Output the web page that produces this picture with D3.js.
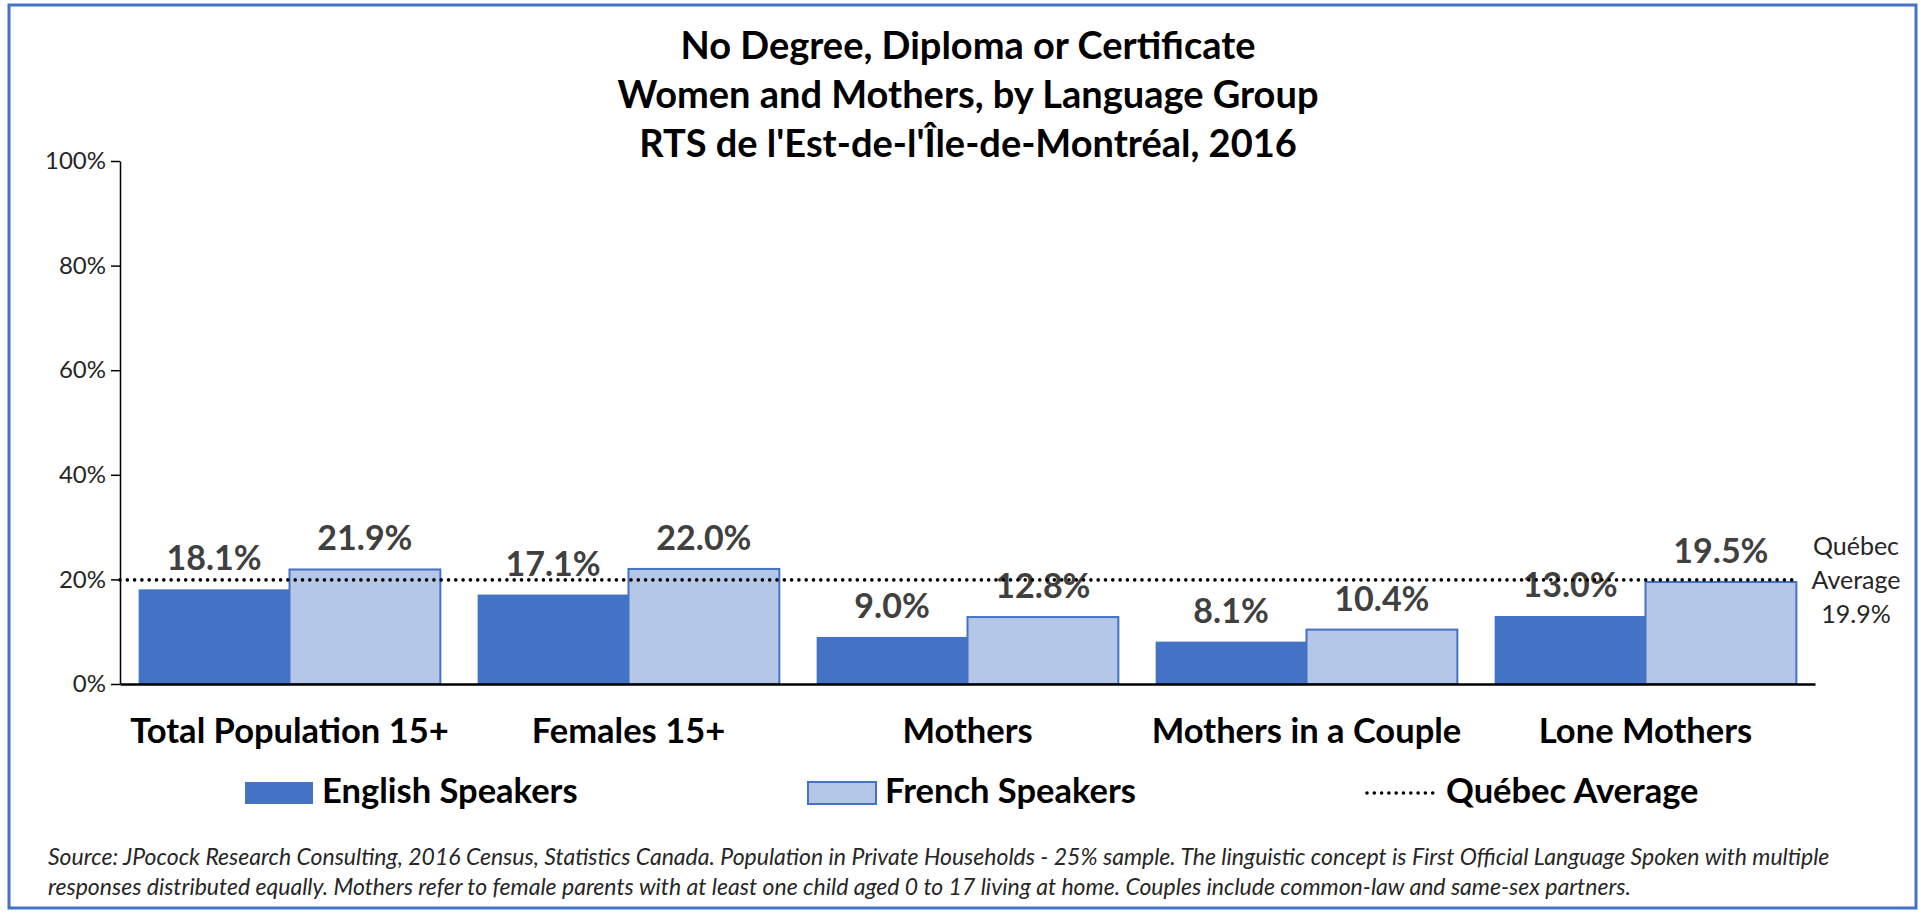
<!DOCTYPE html>
<html>
<head>
<meta charset="utf-8">
<script src="https://cdn.jsdelivr.net/npm/d3@7"></script>
<style>
  body { margin: 0; background: #fff; }
  svg { display: block; font-family: Lato, "Open Sans", sans-serif; }
</style>
</head>
<body>
<svg width="1925" height="914"></svg>
<script>
// values
var categories = ["Total Population 15+", "Females 15+", "Mothers", "Mothers in a Couple", "Lone Mothers"];
var seriesNames = ["English Speakers", "French Speakers"];
var english = [18.1, 17.1, 9.0, 8.1, 13.0];
var french = [21.9, 22.0, 12.8, 10.4, 19.5];
var quebecAvg = 19.9;
var yTicks = [0, 20, 40, 60, 80, 100];
var titleLines = ["No Degree, Diploma or Certificate", "Women and Mothers, by Language Group", "RTS de l'Est-de-l'\u00CEle-de-Montr\u00E9al, 2016"];
var noteLines = [
  "Source: JPocock Research Consulting, 2016 Census, Statistics Canada. Population in Private Households - 25% sample. The linguistic concept is First Official Language Spoken with multiple",
  "responses distributed equally. Mothers refer to female parents with at least one child aged 0 to 17 living at home. Couples include common-law and same-sex partners."
];

var blue = "#4472C4", lightBlue = "#B4C7E7";

var svg = d3.select("svg");

// frame
svg.append("rect")
    .attr("x", 9).attr("y", 5)
    .attr("width", 1907).attr("height", 903)
    .attr("fill", "none")
    .attr("stroke", blue)
    .attr("stroke-width", 3);

// title
svg.append("g").selectAll("text")
    .data(titleLines)
    .enter().append("text")
    .attr("x", 968)
    .attr("y", function(d, i) { return 59 + i * 49; })
    .attr("text-anchor", "middle")
    .style("font-size", "38px")
    .style("font-weight", "bold")
    .attr("fill", "#000")
    .text(function(d) { return d; });

var x0 = d3.scaleBand()
    .domain(categories)
    .range([120, 1815])
    .paddingInner(0.11)
    .paddingOuter(0.055);

var x1 = d3.scaleBand()
    .domain(seriesNames)
    .range([0, x0.bandwidth()]);

var y = d3.scaleLinear()
    .domain([0, 100])
    .range([684, 161]);

var rows = categories.map(function(c, i) {
  return { cat: c, values: [{ key: seriesNames[0], v: english[i] }, { key: seriesNames[1], v: french[i] }] };
});

// y axis
var yAxis = svg.append("g")
    .attr("transform", "translate(120,0)")
    .call(d3.axisLeft(y).tickValues(yTicks).tickFormat(function(d) { return d + "%"; }).tickSize(9).tickSizeOuter(0).tickPadding(5));
yAxis.select(".domain").attr("stroke", "#000").attr("stroke-width", 1.5);
yAxis.selectAll(".tick line").attr("stroke", "#000").attr("stroke-width", 1.5);
yAxis.selectAll(".tick text")
    .style("font-size", "24px")
    .style("font-family", "Lato, sans-serif")
    .attr("fill", "#262626");

// bars
var group = svg.append("g").selectAll("g")
    .data(rows)
    .enter().append("g")
    .attr("transform", function(d) { return "translate(" + x0(d.cat) + ",0)"; });

group.selectAll("rect")
    .data(function(d) { return d.values; })
    .enter().append("rect")
    .attr("x", function(d) { return x1(d.key); })
    .attr("y", function(d) { return y(d.v); })
    .attr("width", x1.bandwidth())
    .attr("height", function(d) { return y(0) - y(d.v); })
    .attr("fill", function(d, i) { return i == 0 ? blue : lightBlue; })
    .attr("stroke", function(d, i) { return i == 0 ? "none" : blue; })
    .attr("stroke-width", 2);

// x axis
var xAxis = svg.append("g")
    .attr("transform", "translate(0,684)")
    .call(d3.axisBottom(x0).tickSize(0).tickSizeOuter(0).tickPadding(0));
xAxis.select(".domain").attr("stroke", "#000").attr("stroke-width", 2.5);
xAxis.selectAll(".tick text")
    .attr("y", 59)
    .attr("dy", 0)
    .style("font-size", "34.5px")
    .style("font-weight", "bold")
    .style("font-family", "Lato, sans-serif")
    .attr("fill", "#000");

// quebec average dotted line
var lastCat = categories[categories.length - 1];
svg.append("line")
    .attr("x1", x0.range()[0])
    .attr("x2", x0(lastCat) + x0.bandwidth())
    .attr("y1", y(quebecAvg))
    .attr("y2", y(quebecAvg))
    .attr("stroke", "#000")
    .attr("stroke-width", 3.6)
    .attr("stroke-linecap", "round")
    .attr("stroke-dasharray", "0,7.3");

// data labels with a light backing box
var labels = group.selectAll(".lbl")
    .data(function(d) { return d.values; })
    .enter().append("g")
    .attr("class", "lbl");

labels.append("text")
    .attr("x", function(d) { return x1(d.key) + x1.bandwidth() / 2; })
    .attr("y", function(d) { return y(d.v) - 19; })
    .attr("text-anchor", "middle")
    .style("font-size", "34px")
    .style("font-weight", "bold")
    .attr("fill", "#404040")
    .text(function(d) { return d.v.toFixed(1) + "%"; });

labels.each(function() {
  var g = d3.select(this), b = g.select("text").node().getBBox();
  g.insert("rect", "text")
      .attr("x", b.x).attr("y", b.y + 4)
      .attr("width", b.width).attr("height", b.height - 8)
      .attr("fill", "#fff")
      .attr("fill-opacity", 0.82);
});

// right-hand annotation
svg.append("g").selectAll("text")
    .data(["Qu\u00E9bec", "Average", quebecAvg.toFixed(1) + "%"])
    .enter().append("text")
    .attr("x", 1856)
    .attr("y", function(d, i) { return 555 + i * 34; })
    .attr("text-anchor", "middle")
    .style("font-size", "25px")
    .attr("fill", "#262626")
    .text(function(d) { return d; });

// legend
var legend = svg.append("g").style("font-size", "34.5px").style("font-weight", "bold");
var legX = [245, 808, 1367];

legend.selectAll("rect")
    .data(seriesNames)
    .enter().append("rect")
    .attr("x", function(d, i) { return legX[i]; })
    .attr("y", 782)
    .attr("width", 68)
    .attr("height", 22)
    .attr("fill", function(d, i) { return i == 0 ? blue : lightBlue; })
    .attr("stroke", function(d, i) { return i == 0 ? "none" : blue; })
    .attr("stroke-width", 2);

legend.append("line")
    .attr("x1", legX[2]).attr("x2", legX[2] + 66)
    .attr("y1", 793).attr("y2", 793)
    .attr("stroke", "#000")
    .attr("stroke-width", 3.6)
    .attr("stroke-linecap", "round")
    .attr("stroke-dasharray", "0,7.3");

legend.selectAll("text")
    .data(seriesNames.concat(["Qu\u00E9bec Average"]))
    .enter().append("text")
    .attr("x", function(d, i) { return legX[i] + (i == 2 ? 79 : 77); })
    .attr("y", 803)
    .attr("fill", "#000")
    .text(function(d) { return d; });

// source note
svg.append("g").selectAll("text")
    .data(noteLines)
    .enter().append("text")
    .attr("x", 48)
    .attr("y", function(d, i) { return 865 + i * 30; })
    .style("font-size", "23px")
    .style("font-style", "italic")
    .attr("fill", "#262626")
    .text(function(d) { return d; });
</script>
</body>
</html>
